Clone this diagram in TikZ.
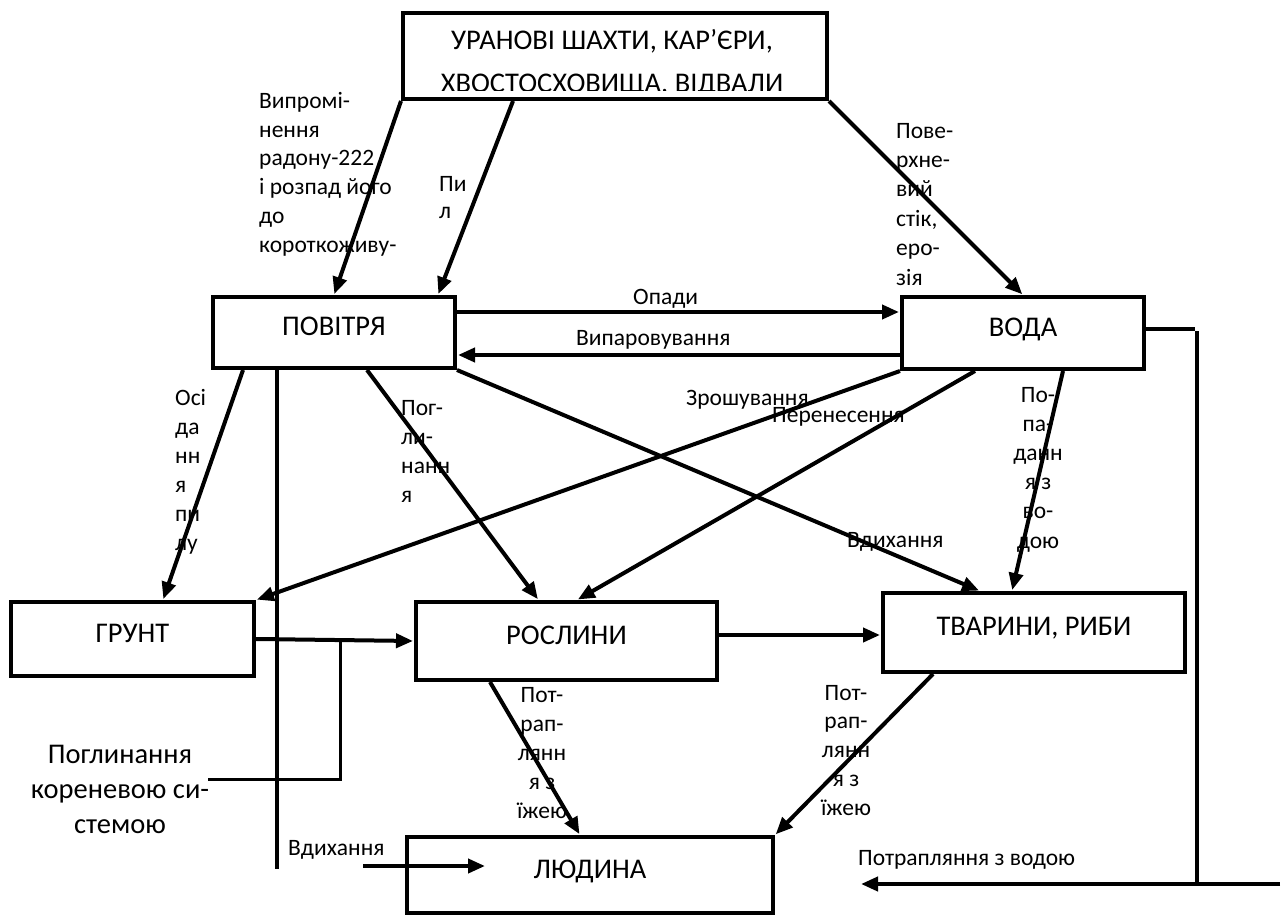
\documentclass[tikz,border=0pt]{standalone}
\usepackage{fontspec}
\setmainfont{Carlito}
\usetikzlibrary{arrows.meta,calc}
\newcommand\fBig{\fontsize{28.5}{35}\selectfont}
\newcommand\fSmall{\fontsize{23.5}{29}\selectfont}
\begin{document}
\begin{tikzpicture}[x=1pt,y=-1pt,
  box/.style={draw,line width=4pt,inner sep=0pt,font=\fBig,text height=18pt,text depth=12pt},
  arr/.style={line width=4pt,-{Triangle[length=17pt,width=14pt]},shorten >=1pt},
  ln/.style={line width=4pt},
  lnthin/.style={line width=3pt},
  lbl/.style={font=\fSmall,inner sep=0pt,align=left},
  lblc/.style={font=\fSmall,inner sep=0pt,align=center}]
\useasboundingbox (0,0) rectangle (1285,915);
\fill[white] (0,0) rectangle (1285,915);

% top box with clipped text
\begin{scope}
\clip (405,15) rectangle (825,91);
\node[font=\fBig,inner sep=0pt,anchor=base] (t1) at (612,50) {УРАНОВІ ШАХТИ, КАР’ЄРИ,};
\node[font=\fBig,inner sep=0pt,anchor=base] (t2) at (612,93) {ХВОСТОСХОВИЩА, ВІДВАЛИ};
\end{scope}
\node[draw,line width=4pt,inner sep=0pt,minimum width=424pt,minimum height=86pt] (top) at (615,56) {};

% boxes
\node[box,minimum width=242pt,minimum height=71pt] (pov) at (334,332.5) {ПОВІТРЯ};
\node[box,minimum width=242pt,minimum height=72pt] (voda) at (1023,333) {ВОДА};
\node[box,minimum width=243pt,minimum height=74pt] (grunt) at (132.5,639) {ГРУНТ};
\node[box,minimum width=301pt,minimum height=78pt] (rosl) at (566.5,641) {РОСЛИНИ};
\node[box,minimum width=302pt,minimum height=79pt] (tvar) at (1034,632.5) {ТВАРИНИ, РИБИ};
\node[box,minimum width=366pt,minimum height=76pt] (lyud) at (590,875) {ЛЮДИНА};

% arrows from top box
\draw[arr] (top.south west) -- (pov.north);
\draw[arr] ([xshift=-102pt]top.south) -- ([xshift=104pt]pov.north);
\draw[arr] (top.south east) -- (voda.north);

% air <-> water
\draw[arr] ([yshift=20.5pt]pov.east) -- ([yshift=20.5pt]pov.east -| voda.west);
\draw[arr] ([yshift=-22pt]voda.west) -- ([yshift=-22pt]voda.west -| pov.east);

% from air
\draw[arr] ([xshift=-91pt]pov.south) -- ([xshift=30.5pt]grunt.north);
\coordinate (povend) at (277,869);
\draw[ln] ([xshift=-57pt]pov.south) -- (povend);
\draw[arr] ([xshift=33pt]pov.south) -- ([xshift=-28pt]rosl.north);
\draw[arr] (pov.south east) -- ([xshift=-54pt]tvar.north);

% from water
\draw[arr] (voda.south west) -- (grunt.north east);
\draw[arr] ([xshift=-48pt]voda.south) -- ([xshift=10.5pt]rosl.north);
\draw[arr] ([xshift=40pt]voda.south) -- ([xshift=-22pt]tvar.north);

% soil -> plants, root absorption
\draw[arr] (grunt.east) -- (rosl.west);
\coordinate (rootA) at (208,779);
\coordinate (rootJ) at (340,640);
\draw[lnthin] (rootA) -| (rootJ);

% plants -> animals
\draw[arr] ([yshift=6pt]rosl.east) -- ([yshift=6pt]rosl.east -| tvar.west);

% to human
\draw[arr] ([xshift=-76.5pt]rosl.south) -- ([xshift=-10pt]lyud.north);
\draw[arr] ([xshift=-101pt]tvar.south) -- (lyud.north east);
\coordinate (vdA) at (363,866);
\draw[arr] (vdA) -- ([xshift=81pt,yshift=9pt]lyud.west);

% water right side to human
\coordinate (vr) at (1195,329);
\draw[ln] ([yshift=4pt]voda.east) -- (vr);
\coordinate (vtop) at (1197,331);
\coordinate (vbot) at (1197,884);
\draw[ln] (vtop) -- (vbot);
\coordinate (wr) at (1280,884);
\coordinate (wl) at (860,884);
\draw[arr] (wr) -- (wl);

% labels (base anchor = baseline of last line)
\node[lbl,anchor=base west,font={\fontsize{23.5}{28.7}\selectfont}] (lradon) at (259,252) {Випромі-\\нення\\радону-222\\і розпад його\\до\\короткоживу-};
\node[lbl,anchor=base west,font={\fontsize{23.5}{27}\selectfont}] (lpyl) at (439,218) {Пи\\л};
\node[lbl,anchor=base west,font={\fontsize{23.5}{29.4}\selectfont}] (lstik) at (896,285) {Пове-\\рхне-\\вий\\стік,\\еро-\\зія};
\node[lbl,anchor=base west] (lopady) at (633,304) {Опади};
\node[lbl,anchor=base west] (lvyp) at (576,345) {Випаровування};
\node[lbl,anchor=base west] (losid) at (175,550) {Осі\\да\\нн\\я\\пи\\лу};
\node[lbl,anchor=base west] (lpog) at (401,502) {Пог-\\ли-\\нанн\\я};
\node[lbl,anchor=base west] (lzrosh) at (686,405) {Зрошування};
\node[lbl,anchor=base west] (lpere) at (772,422) {Перенесення};
\node[lbl,anchor=base west] (lvdyh) at (847,547) {Вдихання};
\node[lblc,anchor=base,font={\fontsize{23.5}{29.2}\selectfont}] (lpopad) at (1038,548) {По-\\па-\\данн\\я з\\во-\\дою};
\node[lblc,anchor=base] (lizha1) at (542,818) {Пот-\\рап-\\лянн\\я з\\їжею};
\node[lblc,anchor=base,font={\fontsize{23.5}{28.75}\selectfont}] (lizha2) at (846,815) {Пот-\\рап-\\лянн\\я з\\їжею};
\node[inner sep=0pt,align=center,anchor=base,font=\fBig] (lroot) at (120,833) {Поглинання\\кореневою си-\\стемою};
\node[lbl,anchor=base west] (lvdyh2) at (288,855) {Вдихання};
\node[lbl,anchor=base west] (lvodoyu) at (858,865) {Потрапляння з водою};
\end{tikzpicture}
\end{document}
